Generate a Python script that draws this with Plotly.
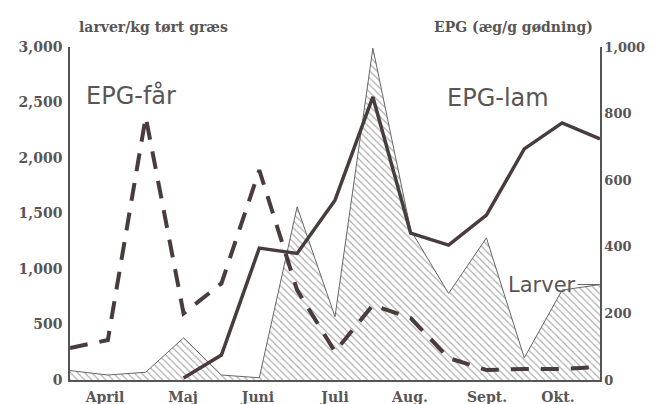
import plotly.graph_objects as go

# sample weeks (bi-weekly sampling)
sample_weeks = [15, 17, 19, 21, 23, 25, 27, 29, 31, 33, 35, 37, 39, 41, 43]
larver = [85, 45, 70, 380, 45, 20, 1560, 570, 2990, 1350, 780, 1280, 200, 810, 860]
epg_faar = [96, 120, 790, 200, 290, 630, 270, 85, 225, 186, 66, 30, 33, 33, 39]
epg_lam = [None, None, None, 6, 75, 396, 380, 540, 850, 441, 405, 495, 694, 772, 724]

month_labels = ["April", "Maj", "Juni", "Juli", "Aug.", "Sept.", "Okt."]
month_pos = [16.85, 20.97, 24.93, 29.0, 32.96, 37.03, 40.78]

left_ticks = [0, 500, 1000, 1500, 2000, 2500, 3000]
right_ticks = [0, 200, 400, 600, 800, 1000]

ink = "#4a3c3c"
txt = "#5a5555"
serif = "DejaVu Serif, Liberation Serif, serif"
sans = "DejaVu Sans, Liberation Sans, sans-serif"
tickfont = dict(family=serif, size=14, color=txt, weight="bold")

fig = go.Figure()
fig.add_trace(go.Scatter(
    x=sample_weeks, y=larver, mode="lines", fill="tozeroy",
    line=dict(color="#666", width=1),
    fillcolor="rgba(0,0,0,0)",
    fillpattern=dict(shape="\\", fgcolor="#555555", bgcolor="white", size=5, solidity=0.22),
    showlegend=False, yaxis="y"))
fig.add_trace(go.Scatter(
    x=sample_weeks, y=epg_faar, mode="lines",
    line=dict(color=ink, width=4, dash="18px,12px"),
    showlegend=False, yaxis="y2"))
fig.add_trace(go.Scatter(
    x=sample_weeks, y=epg_lam, mode="lines",
    line=dict(color=ink, width=3.5),
    showlegend=False, yaxis="y2", connectgaps=False))

axis_common = dict(showgrid=False, zeroline=False, showline=True, linecolor="#555",
                   linewidth=1.5, ticks="outside", tickcolor="rgba(0,0,0,0)",
                   automargin=False)

fig.update_layout(
    width=646, height=396,
    margin=dict(l=62, r=54, t=39, b=24),
    paper_bgcolor="white", plot_bgcolor="white",
    xaxis=dict(range=[15, 43], tickvals=month_pos, ticktext=month_labels,
               ticklen=3, tickfont=tickfont, **axis_common),
    yaxis=dict(range=[0, 3000], tickvals=left_ticks, tickformat=",",
               ticklen=3, tickfont=tickfont, **axis_common),
    yaxis2=dict(range=[0, 1000], tickvals=right_ticks, tickformat=",",
                overlaying="y", side="right", ticklen=0,
                tickfont=dict(family=serif, size=13, color=txt, weight="bold"),
                **axis_common),
    annotations=[
        dict(text="larver/kg tørt græs", xref="paper", yref="paper",
             x=0.158, y=1.060, xanchor="center", yanchor="middle", showarrow=False,
             font=dict(family=serif, size=14, color=txt, weight="bold")),
        dict(text="EPG (æg/g gødning)", xref="paper", yref="paper",
             x=0.836, y=1.060, xanchor="center", yanchor="middle", showarrow=False,
             font=dict(family=serif, size=14, color=txt, weight="bold")),
        dict(text="EPG-får", xref="paper", yref="paper",
             x=0.115, y=0.855, xanchor="center", yanchor="middle", showarrow=False,
             font=dict(family=sans, size=24, color=txt)),
        dict(text="EPG-lam", xref="paper", yref="paper",
             x=0.808, y=0.848, xanchor="center", yanchor="middle", showarrow=False,
             font=dict(family=sans, size=24, color=txt)),
        dict(text="Larver", x=sample_weeks[-1], y=larver[-1], xref="x", yref="y",
             showarrow=True, arrowhead=0, arrowwidth=1, arrowcolor="#666",
             ax=-58, ay=0, font=dict(family=sans, size=21, color=txt)),
    ],
)

fig.write_html("out.html")
